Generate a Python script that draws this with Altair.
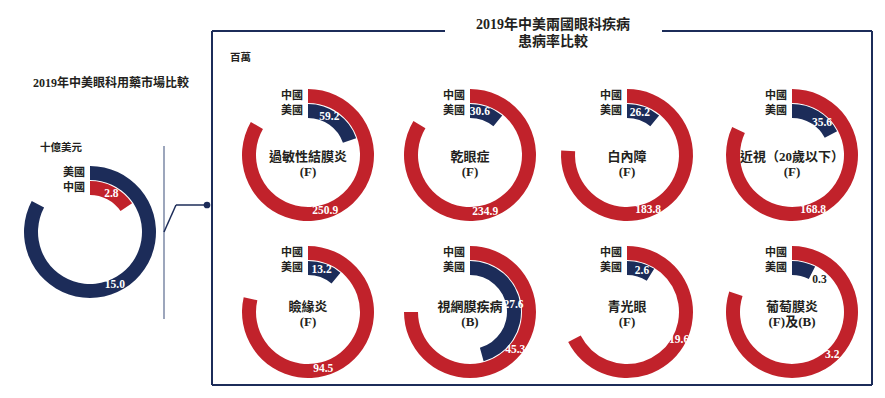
import math
import altair as alt
import pandas as pd

# ---------------- data ----------------
market_countries = ["美國", "中國"]          # outer ring, inner ring
market_values = [15.0, 2.8]                  # 十億美元

disease_line1 = ["過敏性結膜炎", "乾眼症", "白內障", "近視（20歲以下）",
                 "瞼緣炎", "視網膜疾病", "青光眼", "葡萄膜炎"]
disease_line2 = ["(F)", "(F)", "(F)", "(F)", "(F)", "(B)", "(F)", "(F)及(B)"]
china_patients = [250.9, 234.9, 183.8, 168.8, 94.5, 45.3, 19.6, 3.2]   # 百萬
us_patients = [59.2, 30.6, 26.2, 35.6, 13.2, 27.6, 2.6, 0.3]

# ---------------- style / layout ----------------
RED = "#C1222B"
NAVY = "#1C2C59"
INK = "#231F20"
FONT = "Liberation Serif, Noto Sans CJK TC"
OFF = 8                      # page margin
W, H = 869, 382

col_x = [308, 470, 627, 792]
row_y = [155, 312]
name_off = [(2, 17), (-5, 10)]   # centre-text offsets per row
# sweep (deg) of the larger ring in each donut
sweeps = [300, 301, 274, 295, 283, 270, 243, 288]
lab_ang_outer = [163, 165, 159, 159, 165, 130, 118, 137]
lab_ang_inner = [29, 13, 17, 43, 18, 81, 20, 41]
left_center = (90, 232)
left_sweep = 298
left_lab_ang = (155, 29)
R_OUT = (66, 52)
R_IN = (51, 37)
LAB_R = {"outer": 59, "inner": 44}

rows = []


def add_donut(did, cx, cy, outer, inner, sweep, ang_o, ang_i):
    mx = max(outer[1], inner[1])
    for ring, (country, val), ang in (("outer", outer, ang_o), ("inner", inner, ang_i)):
        end = val / mx * sweep / 360.0
        lab = ang / 360.0
        rows.append(dict(donut=did, cx=cx - OFF, cy=cy - OFF, ring=ring, country=country,
                         value=val, start=0.0, end=end,
                         lab=lab, lab_r=LAB_R[ring] - (2 if lab >= end else 0),
                         lc="white" if lab < end else INK,
                         ly=cy - OFF - LAB_R[ring], label=f"{val:.1f}"))


add_donut("market", left_center[0], left_center[1],
          (market_countries[0], market_values[0]), (market_countries[1], market_values[1]),
          left_sweep, left_lab_ang[0], left_lab_ang[1])

names = []
for i in range(8):
    r, c = divmod(i, 4)
    cx, cy = col_x[c], row_y[r]
    add_donut(disease_line1[i], cx, cy, ("中國", china_patients[i]), ("美國", us_patients[i]),
              sweeps[i], lab_ang_outer[i], lab_ang_inner[i])
    names.append(dict(cx=cx - OFF, y1=cy - OFF + name_off[r][0], y2=cy - OFF + name_off[r][1],
                      t1=disease_line1[i], t2=disease_line2[i]))

df = pd.DataFrame(rows)
names_df = pd.DataFrame(names)

theta_scale = alt.Scale(domain=[0, 1], range=[0, 2 * math.pi])
xenc = alt.X("cx:Q", scale=None, axis=None)
yenc = alt.Y("cy:Q", scale=None, axis=None)
color = alt.Color("country:N", scale=alt.Scale(domain=["中國", "美國"], range=[RED, NAVY]), legend=None)

base = alt.Chart(df)

outer_arcs = base.transform_filter(alt.datum.ring == "outer").mark_arc(
    radius=R_OUT[0], radius2=R_OUT[1]).encode(
    x=xenc, y=yenc,
    theta=alt.Theta("start:Q", scale=theta_scale, stack=None), theta2="end:Q",
    color=color)

inner_arcs = base.transform_filter(alt.datum.ring == "inner").mark_arc(
    radius=R_IN[0], radius2=R_IN[1]).encode(
    x=xenc, y=yenc,
    theta=alt.Theta("start:Q", scale=theta_scale, stack=None), theta2="end:Q",
    color=color)

value_labels = base.mark_text(font=FONT, fontSize=11.5, fontWeight="bold",
                              align="center", baseline="middle").encode(
    x=xenc, y=yenc,
    theta=alt.Theta("lab:Q", scale=theta_scale, stack=None),
    radius=alt.Radius("lab_r:Q", scale=None),
    color=alt.Color("lc:N", scale=None, legend=None),
    text="label:N")

country_labels = base.mark_text(font=FONT, fontSize=11, fontWeight="bold", color=INK,
                                align="right", baseline="middle", dx=-5).encode(
    x=xenc, y=alt.Y("ly:Q", scale=None, axis=None), text="country:N")

nb = alt.Chart(names_df)
name1 = nb.mark_text(font=FONT, fontSize=13, fontWeight="bold", color=INK, baseline="middle").encode(
    x=xenc, y=alt.Y("y1:Q", scale=None, axis=None), text="t1:N")
name2 = nb.mark_text(font=FONT, fontSize=13, fontWeight="bold", color=INK, baseline="middle").encode(
    x=xenc, y=alt.Y("y2:Q", scale=None, axis=None), text="t2:N")

one = pd.DataFrame({"k": [0]})


def label(text, x, y, size, align="center"):
    return alt.Chart(one).mark_text(font=FONT, fontSize=size, fontWeight="bold", color=INK,
                                    align=align, baseline="middle").encode(
        x=alt.value(x - OFF), y=alt.value(y - OFF), text=alt.value(text))


def seg(x1, y1, x2, y2, col=NAVY, w=2.0):
    return alt.Chart(one).mark_rule(color=col, strokeWidth=w).encode(
        x=alt.value(x1 - OFF), y=alt.value(y1 - OFF), x2=alt.value(x2 - OFF), y2=alt.value(y2 - OFF))


texts = [
    label("2019年中美兩國眼科疾病", 553, 25, 14),
    label("患病率比較", 553, 42, 14),
    label("2019年中美眼科用藥市場比較", 111, 83, 12),
    label("十億美元", 40, 148, 10.5, "left"),
    label("百萬", 230, 58, 10.5, "left"),
]

lines = [
    seg(212, 31, 445, 31), seg(662, 31, 872, 31), seg(872, 31, 872, 385),
    seg(212, 385, 872, 385), seg(212, 31, 212, 385),
    seg(164, 146, 164, 319, "#5B6B8F", 1.2),
    seg(164, 232, 176, 205, NAVY, 1.5), seg(176, 205, 207, 205, NAVY, 1.5),
]
dot = alt.Chart(one).mark_circle(color=NAVY, opacity=1, size=45).encode(
    x=alt.value(207 - OFF), y=alt.value(205 - OFF))

chart = alt.layer(
    *lines, dot, outer_arcs, inner_arcs, value_labels, country_labels, name1, name2, *texts
).properties(width=W, height=H, padding=0).configure_view(stroke=None)

chart.save("out.html", embed_options={"renderer": "svg", "actions": False})
